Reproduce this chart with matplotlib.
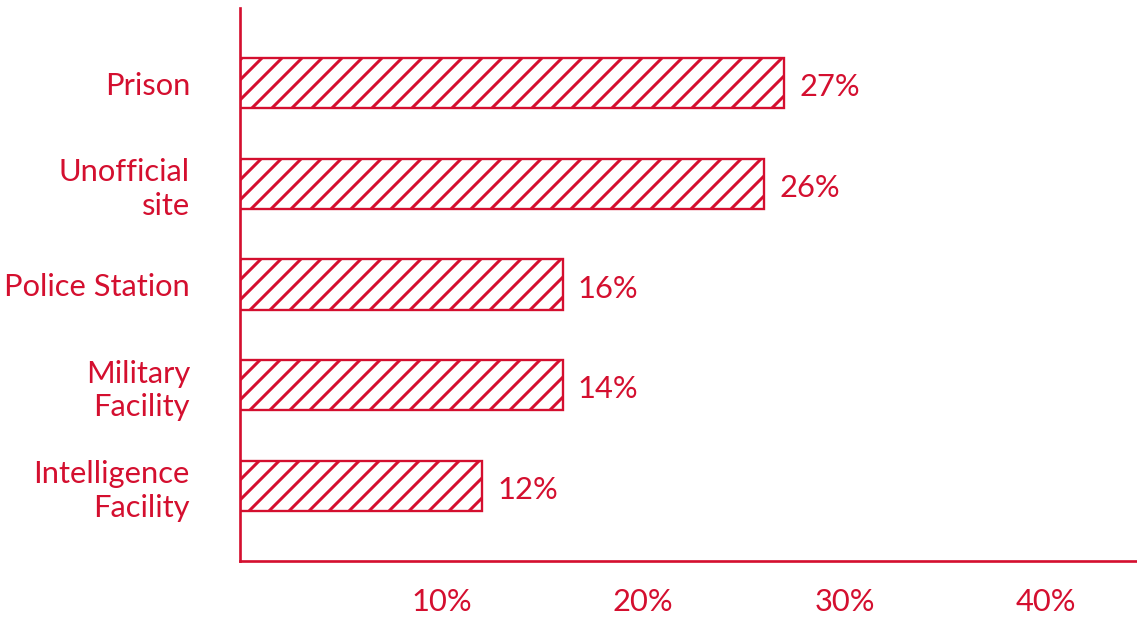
import matplotlib
matplotlib.use("Agg")
import matplotlib.pyplot as plt

categories = ["Prison", "Unofficial\nsite", "Police Station", "Military\nFacility", "Intelligence\nFacility"]
bar_values = [27, 26, 16, 16, 12]
value_labels = ["27%", "26%", "16%", "14%", "12%"]
x_ticks = [10, 20, 30, 40]
x_tick_labels = ["10%", "20%", "30%", "40%"]

RED = "#d40f2f"
plt.rcParams["font.family"] = ["Lato", "DejaVu Sans"]
plt.rcParams["hatch.linewidth"] = 1.8
plt.rcParams["hatch.color"] = RED

DPI = 120
fig = plt.figure(figsize=(1137 / DPI, 619 / DPI), dpi=DPI)
ax = fig.add_axes([240 / 1137, (619 - 561) / 619, (1137 - 240) / 1137, (561 - 8) / 619])

n = len(categories)
ypos = list(range(n - 1, -1, -1))
ax.barh(ypos, bar_values, height=0.5, color="white", edgecolor=RED,
        linewidth=1.4, hatch="//")

for y, v, lab in zip(ypos, bar_values, value_labels):
    ax.text(v + 0.75, y - 0.04, lab, va="center", ha="left", color=RED, fontsize=18.5)

ax.set_xlim(0, 44.5)
ax.set_ylim(-0.745, n - 1 + 0.745)
ax.set_yticks(ypos)
ax.set_yticklabels(categories, fontsize=18.5, color=RED, linespacing=1.25)
ax.set_xticks(x_ticks)
ax.set_xticklabels(x_tick_labels, fontsize=18.5, color=RED)
ax.tick_params(axis="both", length=0)
ax.tick_params(axis="x", pad=16)
ax.tick_params(axis="y", pad=30)
for lbl in ax.get_yticklabels():
    lbl.set_horizontalalignment("right")
    lbl.set_multialignment("right")

for s in ["top", "right"]:
    ax.spines[s].set_visible(False)
for s in ["left", "bottom"]:
    ax.spines[s].set_color(RED)
    ax.spines[s].set_linewidth(1.6)

fig.savefig("out.png", dpi=DPI, facecolor="white")
